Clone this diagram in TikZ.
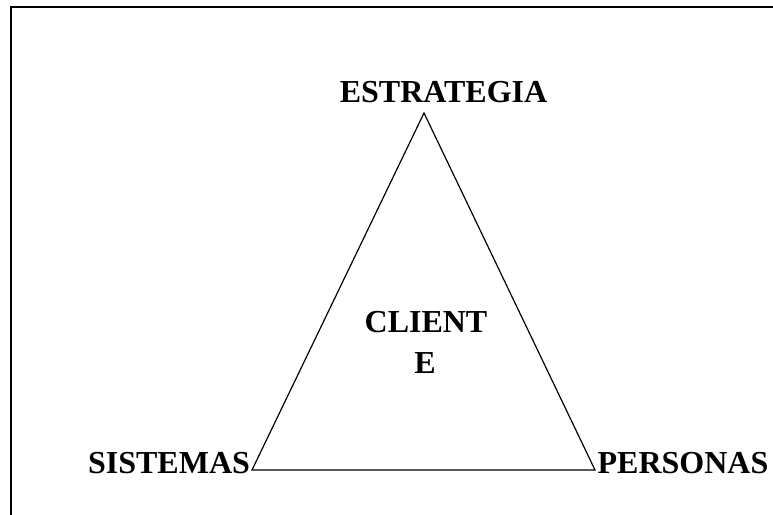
\documentclass[tikz,border=0pt]{standalone}
\usepackage{fontspec}
\setmainfont{Liberation Serif}
\tikzset{lbl/.style={font=\fontsize{32}{41}\selectfont\bfseries, inner sep=0pt, anchor=base}}
\begin{document}
\begin{tikzpicture}[x=1pt,y=-1pt]
\useasboundingbox (0,0) rectangle (773,514);
\draw[line width=2pt] (11,520) -- (11,7) -- (780,7);
\coordinate (top) at (424,113);
\coordinate (bl) at (252,470);
\coordinate (br) at (595,470);
\draw[line width=1.2pt, line join=miter] (top) -- (br) -- (bl) -- cycle;
\node[lbl] (est) at (443.5,102) {ESTRATEGIA};
\node[lbl] (sis) at (169,473) {SISTEMAS};
\node[lbl] (per) at (683,473) {PERSONAS};
\node[lbl] (cli) at (426,332) {CLIENT};
\node[lbl] (cli2) at (425,373) {E};
\end{tikzpicture}
\end{document}
